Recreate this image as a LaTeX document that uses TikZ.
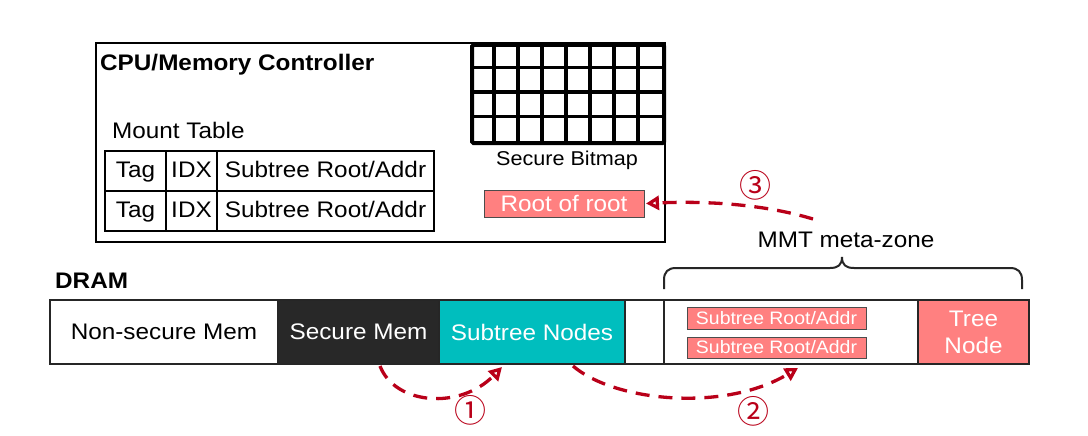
\documentclass[tikz,border=0pt]{standalone}
\usepackage{fontspec}
\setmainfont{Liberation Sans}[FakeStretch=1.08]
\newfontfamily\symfont{Noto Sans CJK JP}
\usetikzlibrary{arrows.meta}
\definecolor{salmon}{RGB}{255,128,128}
\definecolor{tealmem}{RGB}{0,190,190}
\definecolor{darkmem}{RGB}{40,40,40}
\definecolor{arrred}{RGB}{185,0,25}
\newcommand\myfs[1]{\fontsize{#1}{#1}\selectfont}
\begin{document}
\begin{tikzpicture}[x=1pt,y=-1pt,
  box/.style={draw=black, line width=1.6pt, inner sep=0pt, outer sep=0pt},
  cell/.style={box, minimum height=40pt, text height=16.5pt, text depth=4.5pt, font=\myfs{22.5}},
  seg/.style={draw=black!85, line width=2pt, minimum height=64pt, inner sep=0pt, outer sep=0pt, font=\myfs{22.5}},
  pinkbox/.style={draw=black!70, line width=1pt, fill=salmon, text=white, inner sep=0pt, outer sep=0pt},
  flow/.style={arrred, line width=3.3pt, dash pattern=on 14pt off 9pt, -{Triangle[open,length=13pt,width=14pt]}},
  num/.style={text=arrred, font=\symfont\myfs{32}, inner sep=0pt},
  lbl/.style={font=\myfs{22.5}, inner sep=0pt},
  blbl/.style={font=\bfseries\myfs{22.5}, inner sep=0pt}]
\fill[white] (0,0) rectangle (1088,436);
\useasboundingbox (0,0) rectangle (1088,436);

% CPU / memory controller
\node[box, minimum width=569pt, minimum height=199pt] (cpu) at (380.5,142.5) {};
\node[blbl, anchor=base west] (title) at (100,71) {CPU/Memory Controller};
\node[lbl, anchor=base west] (mt) at (112,139) {Mount Table};

% mount table
\node[cell, minimum width=61pt] (t11) at (135.5,171) {Tag};
\node[cell, minimum width=51pt] (t12) at (191.5,171) {IDX};
\node[cell, minimum width=217pt] (t13) at (325.5,171) {Subtree Root/Addr};
\node[cell, minimum width=61pt] (t21) at (135.5,211) {Tag};
\node[cell, minimum width=51pt] (t22) at (191.5,211) {IDX};
\node[cell, minimum width=217pt] (t23) at (325.5,211) {Subtree Root/Addr};

% secure bitmap
\node[draw, line width=4pt, rounded corners=1.5pt, minimum width=192pt, minimum height=98pt, inner sep=0pt] (bm) at (568,94) {};
\foreach \i in {1,...,7}
  \draw[line width=3.5pt] ([xshift=\i*24pt]bm.north west) -- ([xshift=\i*24pt]bm.south west);
\foreach \j in {1,2,3}
  \draw[line width=3.5pt] ([yshift=-\j*24.5pt]bm.north west) -- ([yshift=-\j*24.5pt]bm.north east);
\node[font=\myfs{20}, inner sep=0pt, anchor=base] (sbl) at (567,165) {Secure Bitmap};
\node[pinkbox, minimum width=160pt, minimum height=27pt, font=\myfs{22.5}] (rr) at (564,203.5) {Root of root};

% DRAM
\node[blbl, anchor=base west] (dram) at (55,288) {DRAM};
\node[seg, minimum width=228pt] (ns) at (164,332) {Non-secure Mem};
\node[seg, minimum width=161pt, fill=darkmem, text=white] (sm) at (358.5,332) {Secure Mem};
\node[seg, minimum width=186pt, fill=tealmem, text=white] (st) at (532,332) {Subtree Nodes};
\node[seg, minimum width=39pt] (bl) at (644.5,332) {};
\node[seg, minimum width=254pt] (meta) at (791,332) {};
\node[seg, minimum width=111pt, fill=salmon, text=white, align=center, font=\fontsize{22.5}{27}\selectfont] (tn) at (973.5,332) {Tree\\Node};
\node[pinkbox, minimum width=179pt, minimum height=22pt, font=\myfs{18}] (sr1) at (776.5,318) {Subtree Root/Addr};
\node[pinkbox, minimum width=179pt, minimum height=21pt, font=\myfs{18}] (sr2) at (776.5,347.5) {Subtree Root/Addr};

% MMT meta-zone brace
\node[lbl, anchor=base] (mmt) at (846,247) {MMT meta-zone};
\draw[line width=2pt, black!85]
  (664,289) -- (664,280) .. controls (664,272) and (668,268) .. (676,268) -- (830,268)
  .. controls (838,268) and (842,265) .. (842,257)
  .. controls (842,265) and (846,268) .. (854,268) -- (1010,268)
  .. controls (1018,268) and (1022,272) .. (1022,280) -- (1022,289);

% arrows
\coordinate (a1s) at (380,366);
\coordinate (a1e) at (502,367);
\coordinate (a2s) at (573,366);
\coordinate (a2e) at (798,368);
\coordinate (a3s) at (813,219);
\draw[flow] (a1s) .. controls (395,405) and (460,410) .. (a1e);
\draw[flow] (a2s) .. controls (615,402) and (725,412) .. (a2e);
\draw[flow] (a3s) .. controls (760,203) and (700,201) .. ([xshift=2pt]rr.east);
\node[num] (n1) at (470,410) {①};
\node[num] (n2) at (753,411) {②};
\node[num] (n3) at (755,185) {③};
\end{tikzpicture}
\end{document}
